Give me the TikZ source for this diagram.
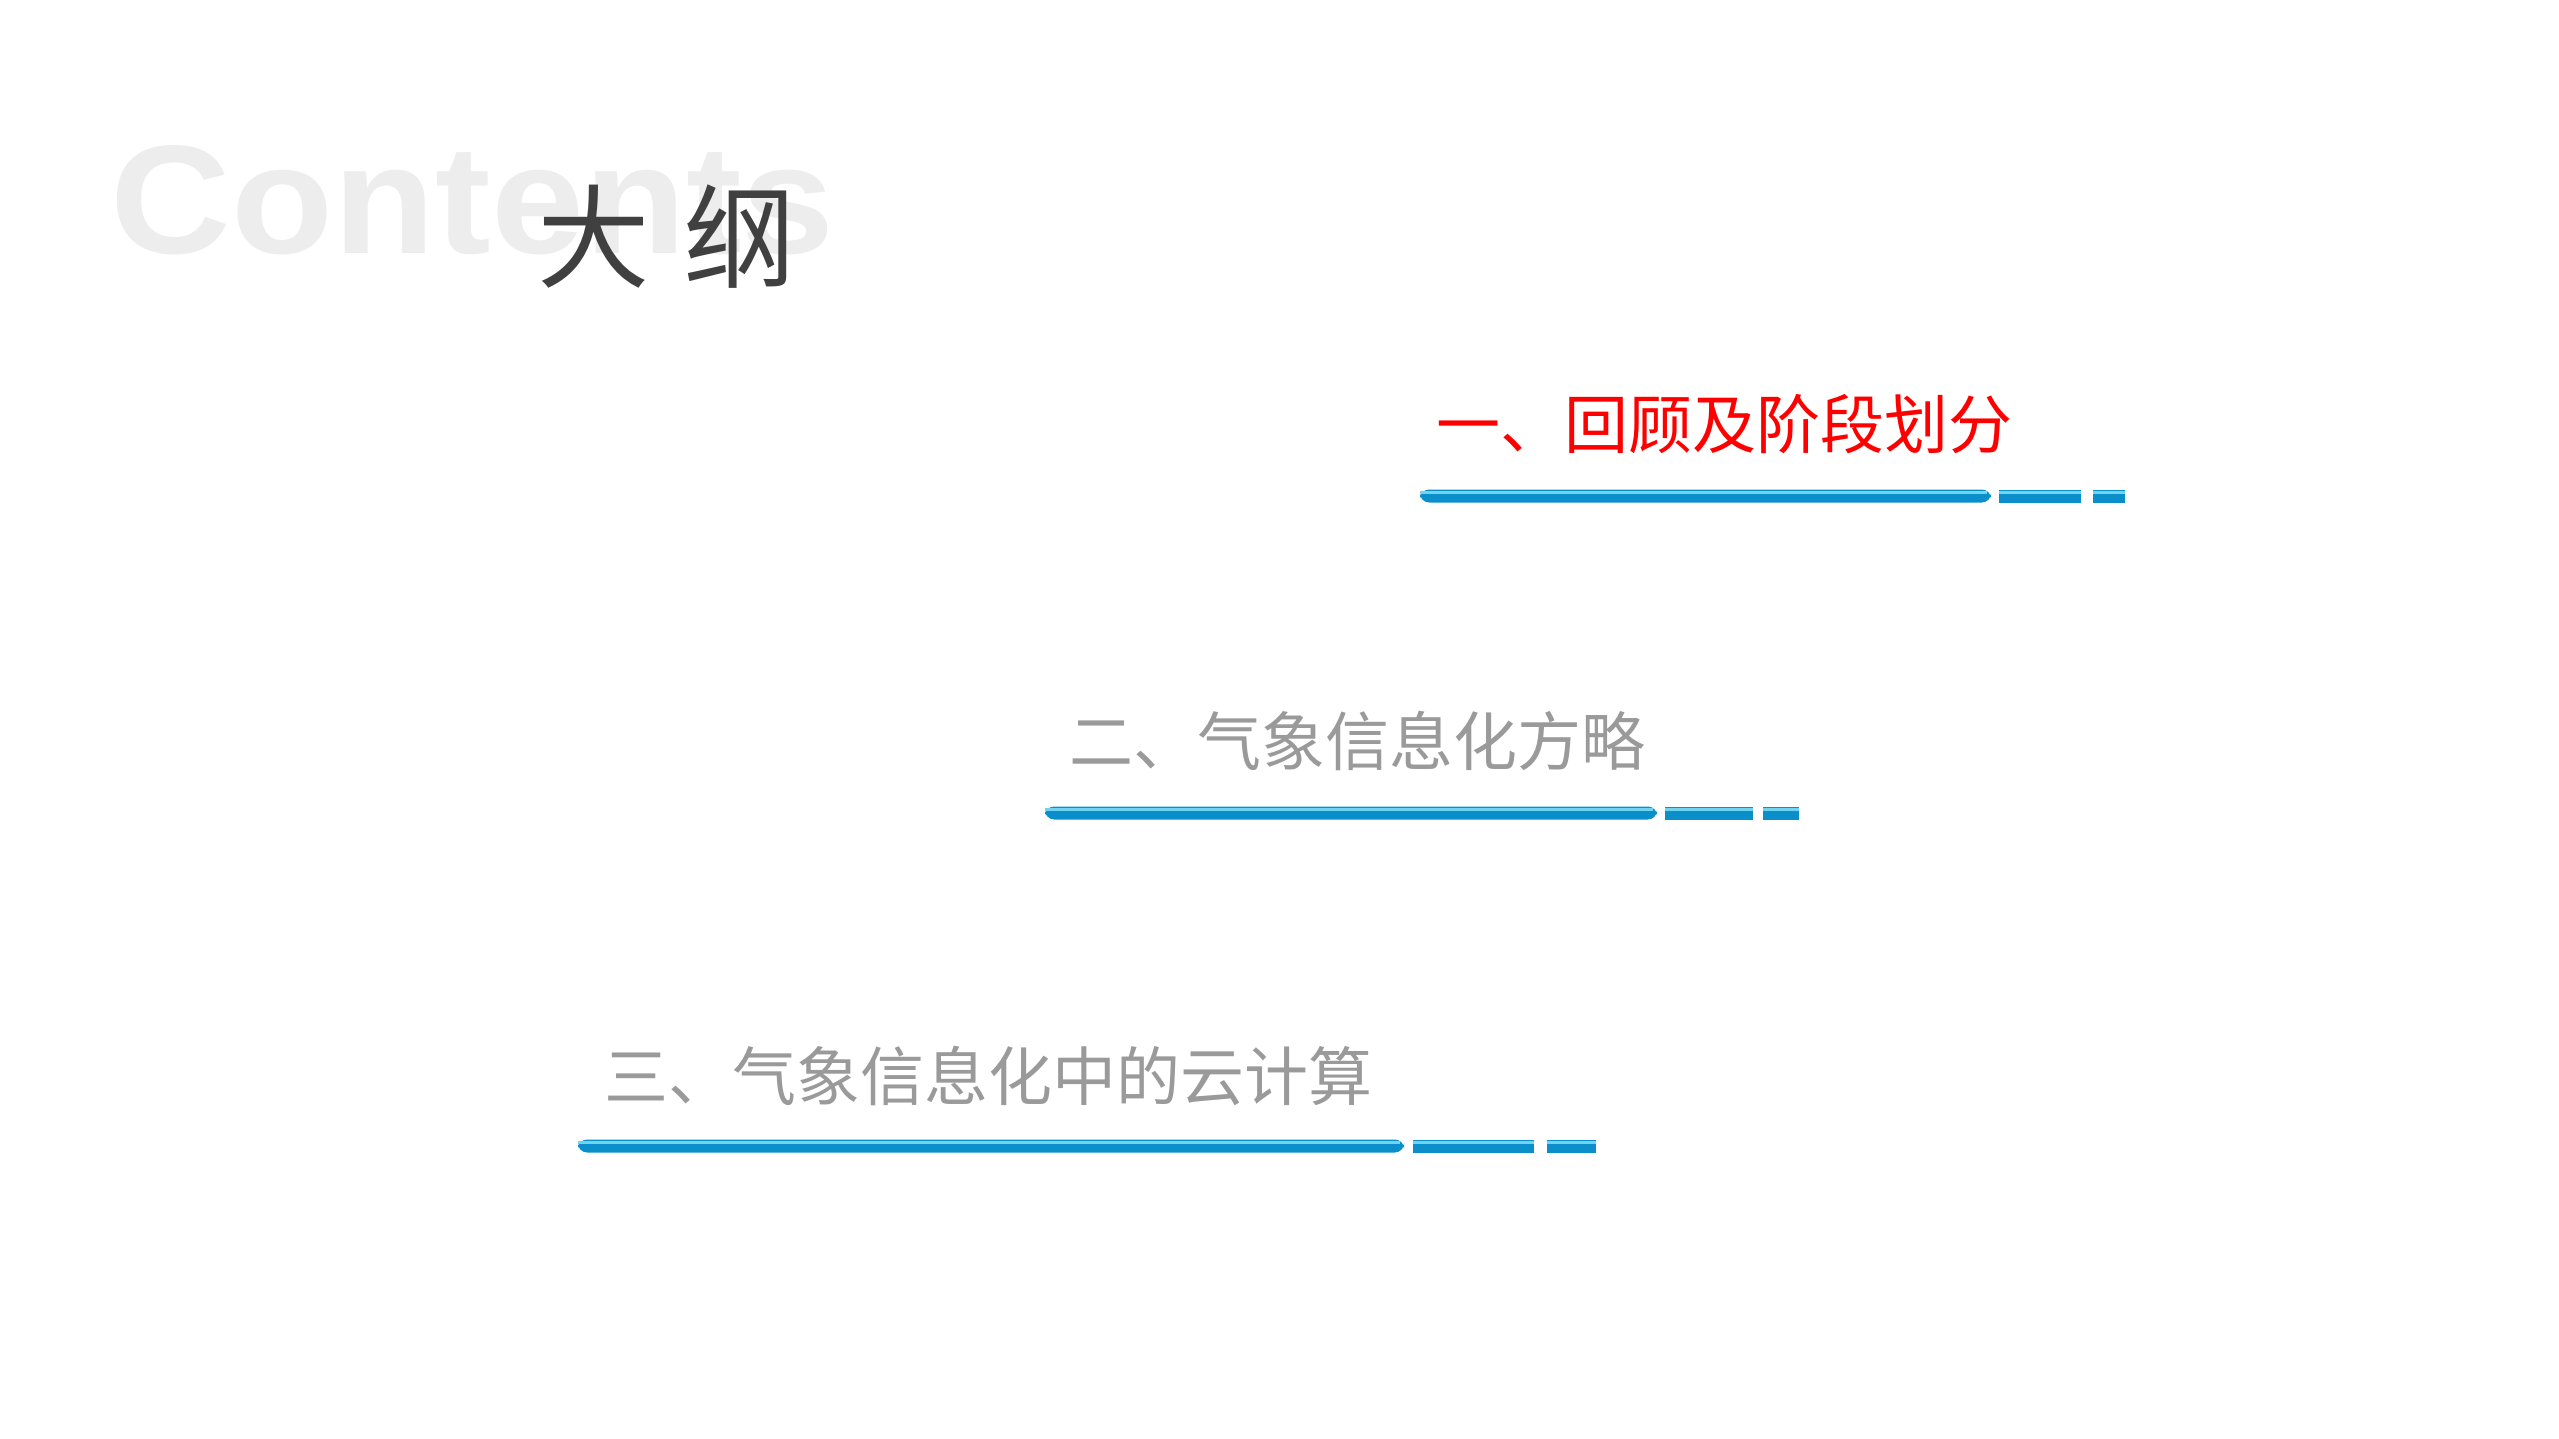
\documentclass[tikz,border=0pt]{standalone}
\usepackage{fontspec}
\setmainfont{Liberation Sans}
\newfontfamily\cjk{Noto Sans CJK SC}
\definecolor{barblue}{HTML}{0A8FCB}
\definecolor{barlight}{HTML}{6FD3F2}
\definecolor{grtxt}{HTML}{9A9A9A}
\tikzset{
  itemtext/.style={anchor=west,inner sep=0pt,font=\cjk\fontsize{18.2pt}{20pt}\selectfont},
}
\newcommand{\mybar}[7]{%
  \fill[barblue,rounded corners=6.5\pgflinewidth] (#1,#7-6.5) rectangle (#2,#7+6.5);
  \fill[barlight] (#1,#7-5) rectangle (#2-4,#7-2.5);
  \fill[barblue] (#3,#7-6.5) rectangle (#4,#7+6.5);
  \fill[barlight] (#3,#7-5) rectangle (#4,#7-2.5);
  \fill[barblue] (#5,#7-6.5) rectangle (#6,#7+6.5);
  \fill[barlight] (#5,#7-5) rectangle (#6,#7-2.5);
}
\begin{document}
\begin{tikzpicture}[x=0.01cm,y=-0.01cm]
\useasboundingbox (0,0) rectangle (2559,1439);
\node[anchor=west,inner sep=0pt,text=black!7,xscale=1.08,font=\bfseries\fontsize{44pt}{48pt}\selectfont] (contents) at (110,200) {Contents};
\node[anchor=west,inner sep=0pt,text=black!75,font=\cjk\fontsize{32pt}{36pt}\selectfont] (title) at (537,237) {大\hspace{0.3em}纲};
\node[itemtext,text=red] (t1) at (1436,424) {一、回顾及阶段划分};
\node[itemtext,text=grtxt] (t2) at (1069,741) {二、气象信息化方略};
\node[itemtext,text=grtxt] (t3) at (604,1076) {三、气象信息化中的云计算};
\mybar{1420}{1991}{1999}{2081}{2093}{2125}{496}
\mybar{1045}{1657}{1665}{1753}{1763}{1799}{813}
\mybar{578}{1404}{1413}{1534}{1547}{1596}{1146}
\end{tikzpicture}
\end{document}
